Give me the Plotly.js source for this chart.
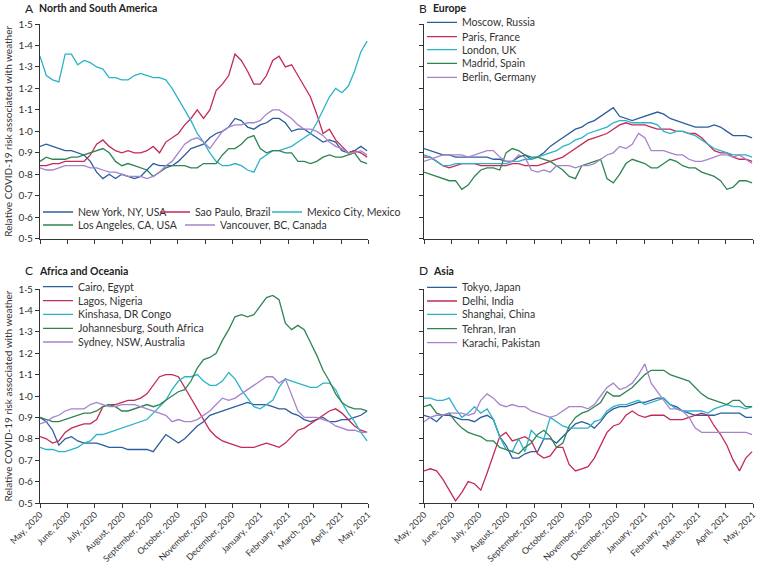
<!DOCTYPE html>
<html>
<head>
<meta charset="utf-8">
<script src="https://cdn.plot.ly/plotly-3.0.1.min.js"></script>
<style>
html,body{margin:0;padding:0;background:#fff;}
#chart{width:758px;height:567px;}
</style>
</head>
<body>
<div id="chart"></div>
<script>
// weekly sample dates (May 1, 2020 -> Apr 30, 2021)
var dates = ['2020-05-01','2020-05-08','2020-05-15','2020-05-22','2020-05-29','2020-06-05','2020-06-12','2020-06-19','2020-06-26','2020-07-03',
'2020-07-10','2020-07-17','2020-07-24','2020-07-31','2020-08-07','2020-08-14','2020-08-21','2020-08-28','2020-09-04','2020-09-11',
'2020-09-18','2020-09-25','2020-10-02','2020-10-09','2020-10-16','2020-10-23','2020-10-30','2020-11-06','2020-11-13','2020-11-20',
'2020-11-27','2020-12-04','2020-12-11','2020-12-18','2020-12-25','2021-01-01','2021-01-08','2021-01-15','2021-01-22','2021-01-29',
'2021-02-05','2021-02-12','2021-02-19','2021-02-26','2021-03-05','2021-03-12','2021-03-19','2021-03-26','2021-04-02','2021-04-09',
'2021-04-16','2021-04-23','2021-04-30'];

var monthTicks = ['2020-05-01','2020-06-01','2020-07-01','2020-08-01','2020-09-01','2020-10-01','2020-11-01','2020-12-01','2021-01-01','2021-02-01','2021-03-01','2021-04-01','2021-05-01'];
var monthLabels = ['May, 2020','June, 2020','July, 2020','August, 2020','September, 2020','October, 2020','November, 2020','December, 2020','January, 2021','February, 2021','March, 2021','April, 2021','May, 2021'];
var yTicks = [0.5,0.6,0.7,0.8,0.9,1.0,1.1,1.2,1.3,1.4,1.5];
var yLabels = ['0·5','0·6','0·7','0·8','0·9','1·0','1·1','1·2','1·3','1·4','1·5'];

// Panel A: North and South America
var newYork = [0.93,0.94,0.93,0.92,0.91,0.91,0.90,0.89,0.86,0.81, 0.78,0.80,0.78,0.80,0.79,0.78,0.79,0.82,0.85,0.84, 0.84,0.84,0.86,0.89,0.92,0.93,0.94,0.97,0.99,1.00, 1.02,1.06,1.05,1.02,1.01,1.03,1.04,1.06,1.06,1.04, 1.00,1.01,1.01,0.99,0.97,0.95,0.96,0.95,0.91,0.90, 0.91,0.93,0.91];
var saoPaulo = [0.84,0.84,0.85,0.85,0.86,0.86,0.86,0.86,0.89,0.94, 0.96,0.93,0.91,0.90,0.91,0.90,0.90,0.91,0.93,0.90, 0.95,0.97,0.99,1.03,1.06,1.10,1.06,1.10,1.19,1.22, 1.26,1.36,1.33,1.28,1.22,1.22,1.26,1.33,1.35,1.30, 1.31,1.26,1.21,1.16,1.08,0.99,1.01,0.96,0.93,0.90, 0.91,0.90,0.88];
var mexicoCity = [1.35,1.26,1.24,1.23,1.36,1.36,1.31,1.33,1.32,1.30, 1.29,1.25,1.25,1.24,1.24,1.26,1.27,1.26,1.25,1.25, 1.24,1.20,1.15,1.10,1.05,0.99,0.95,0.90,0.86,0.84, 0.84,0.85,0.84,0.82,0.81,0.87,0.89,0.91,0.91,0.92, 0.93,0.95,0.97,0.99,1.04,1.10,1.16,1.20,1.18,1.21, 1.28,1.37,1.42];
var losAngeles = [0.86,0.88,0.87,0.87,0.87,0.88,0.88,0.89,0.90,0.91, 0.92,0.90,0.86,0.84,0.85,0.84,0.83,0.82,0.79,0.81, 0.83,0.84,0.84,0.84,0.83,0.83,0.85,0.85,0.85,0.89, 0.92,0.92,0.94,0.97,0.98,0.92,0.90,0.91,0.91,0.90, 0.90,0.86,0.86,0.85,0.86,0.88,0.89,0.88,0.88,0.89, 0.90,0.86,0.85];
var vancouver = [0.83,0.82,0.82,0.83,0.84,0.84,0.84,0.84,0.83,0.83, 0.82,0.81,0.81,0.80,0.79,0.79,0.79,0.78,0.79,0.81, 0.84,0.86,0.90,0.94,0.96,0.97,0.95,0.92,0.96,1.00, 1.02,1.03,1.03,1.04,1.04,1.05,1.08,1.10,1.10,1.08, 1.06,1.03,1.01,1.01,1.00,0.98,0.95,0.93,0.92,0.90, 0.90,0.91,0.89];

// Panel B: Europe
var moscow = [0.92,0.91,0.90,0.89,0.89,0.88,0.88,0.88,0.88,0.88, 0.88,0.87,0.87,0.86,0.86,0.88,0.89,0.87,0.88,0.90, 0.93,0.95,0.97,0.99,1.01,1.02,1.04,1.05,1.07,1.09, 1.11,1.07,1.06,1.05,1.06,1.07,1.08,1.09,1.08,1.06, 1.05,1.04,1.03,1.02,1.02,1.02,1.03,1.02,1.00,0.98, 0.98,0.98,0.97];
var paris = [0.88,0.88,0.86,0.84,0.83,0.84,0.85,0.85,0.85,0.84, 0.84,0.84,0.84,0.84,0.85,0.85,0.84,0.84,0.84,0.85, 0.86,0.87,0.88,0.90,0.92,0.94,0.96,0.97,0.98,0.99, 1.01,1.03,1.04,1.03,1.03,1.03,1.02,1.01,1.01,1.01, 1.00,1.00,0.99,0.99,0.97,0.94,0.91,0.90,0.90,0.88, 0.87,0.87,0.86];
var london = [0.89,0.88,0.86,0.84,0.84,0.85,0.85,0.85,0.85,0.85, 0.85,0.85,0.85,0.85,0.86,0.86,0.87,0.87,0.88,0.89, 0.90,0.91,0.93,0.94,0.96,0.97,0.99,1.00,1.01,1.02, 1.04,1.05,1.05,1.04,1.04,1.04,1.04,1.03,1.00,0.99, 1.00,1.00,0.99,0.98,0.96,0.94,0.92,0.91,0.90,0.89, 0.89,0.89,0.88];
var madrid = [0.81,0.80,0.79,0.78,0.77,0.77,0.73,0.75,0.79,0.82, 0.83,0.83,0.82,0.90,0.92,0.91,0.89,0.88,0.88,0.87, 0.86,0.84,0.82,0.79,0.78,0.84,0.85,0.86,0.87,0.78, 0.76,0.80,0.85,0.87,0.86,0.85,0.83,0.83,0.85,0.87, 0.86,0.84,0.83,0.83,0.81,0.80,0.79,0.77,0.73,0.74, 0.77,0.77,0.76];
var berlin = [0.86,0.87,0.88,0.89,0.89,0.89,0.89,0.88,0.89,0.90, 0.91,0.91,0.88,0.86,0.86,0.89,0.88,0.82,0.81,0.82, 0.81,0.84,0.84,0.84,0.83,0.84,0.84,0.85,0.87,0.89, 0.90,0.93,0.92,0.94,0.99,0.97,0.91,0.91,0.91,0.90, 0.89,0.89,0.87,0.86,0.86,0.87,0.88,0.89,0.89,0.88, 0.89,0.87,0.85];

// Panel C: Africa and Oceania
var cairo = [0.90,0.88,0.84,0.77,0.80,0.81,0.79,0.78,0.78,0.78, 0.77,0.76,0.76,0.76,0.75,0.75,0.75,0.75,0.74,0.78, 0.82,0.80,0.78,0.80,0.83,0.86,0.88,0.91,0.92,0.93, 0.94,0.95,0.96,0.97,0.96,0.96,0.96,0.95,0.94,0.94, 0.92,0.91,0.89,0.88,0.89,0.90,0.88,0.88,0.89,0.89, 0.90,0.91,0.93];
var lagos = [0.81,0.80,0.78,0.79,0.83,0.85,0.86,0.87,0.87,0.89, 0.95,0.96,0.96,0.97,0.98,0.98,0.99,1.01,1.05,1.09, 1.10,1.10,1.09,1.04,0.99,0.94,0.89,0.84,0.81,0.79, 0.78,0.77,0.76,0.76,0.76,0.77,0.78,0.77,0.76,0.78, 0.81,0.84,0.85,0.87,0.89,0.91,0.93,0.94,0.92,0.89, 0.86,0.84,0.83];
var kinshasa = [0.76,0.75,0.75,0.74,0.74,0.75,0.76,0.78,0.79,0.82, 0.82,0.83,0.84,0.85,0.86,0.87,0.88,0.89,0.92,0.95, 0.98,1.03,1.07,1.09,1.09,1.10,1.07,1.05,1.05,1.07, 1.11,1.08,1.03,0.99,0.95,0.94,0.96,0.98,1.04,1.08, 1.07,1.06,1.05,1.04,1.04,1.06,1.06,1.03,0.97,0.92, 0.88,0.83,0.79];
var johannesburg = [0.90,0.89,0.88,0.88,0.89,0.90,0.91,0.92,0.92,0.93, 0.95,0.96,0.95,0.93,0.93,0.94,0.95,0.96,0.95,0.96, 0.98,1.00,1.02,1.03,1.07,1.13,1.17,1.18,1.20,1.26, 1.31,1.37,1.38,1.37,1.38,1.42,1.46,1.47,1.45,1.34, 1.31,1.33,1.31,1.25,1.19,1.12,1.07,1.01,0.97,0.95, 0.94,0.94,0.93];
var sydney = [0.87,0.88,0.90,0.91,0.93,0.94,0.94,0.94,0.96,0.97, 0.96,0.95,0.95,0.96,0.96,0.96,0.95,0.94,0.93,0.92, 0.91,0.88,0.89,0.88,0.88,0.89,0.91,0.93,0.96,0.99, 0.98,0.99,1.01,1.03,1.05,1.07,1.09,1.09,1.06,1.08, 1.00,0.93,0.90,0.90,0.90,0.89,0.88,0.86,0.85,0.84, 0.84,0.83,0.83];

// Panel D: Asia
var tokyo = [0.91,0.90,0.88,0.91,0.91,0.90,0.89,0.89,0.88,0.90, 0.91,0.89,0.81,0.77,0.71,0.71,0.73,0.74,0.74,0.80, 0.80,0.78,0.81,0.84,0.87,0.88,0.87,0.85,0.88,0.92, 0.94,0.95,0.95,0.96,0.97,0.97,0.98,0.99,0.99,0.96, 0.95,0.93,0.92,0.91,0.91,0.91,0.91,0.92,0.92,0.92, 0.92,0.90,0.90];
var delhi = [0.65,0.66,0.65,0.61,0.56,0.51,0.55,0.60,0.59,0.56, 0.64,0.73,0.81,0.83,0.79,0.80,0.81,0.79,0.73,0.71, 0.72,0.76,0.76,0.68,0.65,0.66,0.67,0.71,0.77,0.83, 0.86,0.87,0.91,0.93,0.91,0.90,0.91,0.91,0.91,0.89, 0.89,0.89,0.90,0.91,0.92,0.91,0.86,0.82,0.77,0.70, 0.65,0.71,0.74];
var shanghai = [0.99,0.99,0.98,0.98,0.99,0.94,0.90,0.92,0.95,0.92, 0.94,0.89,0.81,0.75,0.74,0.80,0.74,0.84,0.81,0.80, 0.90,0.88,0.86,0.85,0.85,0.85,0.85,0.88,0.89,0.93, 0.95,0.96,0.96,0.97,0.98,0.96,0.97,0.98,0.99,0.96, 0.94,0.93,0.93,0.93,0.93,0.92,0.94,0.95,0.96,0.95, 0.95,0.94,0.95];
var tehran = [0.95,0.96,0.92,0.91,0.92,0.88,0.85,0.83,0.82,0.81, 0.79,0.79,0.76,0.75,0.74,0.73,0.76,0.78,0.82,0.84, 0.81,0.76,0.78,0.86,0.90,0.92,0.93,0.95,0.97,1.02, 1.00,1.00,1.02,1.04,1.07,1.10,1.12,1.12,1.12,1.10, 1.09,1.08,1.07,1.04,1.01,0.99,0.98,0.97,0.96,0.98, 0.98,0.95,0.95];
var karachi = [0.88,0.90,0.91,0.91,0.92,0.92,0.92,0.91,0.92,0.98, 1.01,0.99,0.96,0.95,0.96,0.95,0.95,0.93,0.92,0.91, 0.90,0.91,0.93,0.95,0.95,0.95,0.94,0.96,1.00,1.04, 1.06,1.03,1.04,1.06,1.10,1.15,1.06,1.02,0.98,0.94, 0.94,0.93,0.90,0.85,0.83,0.83,0.83,0.83,0.83,0.83, 0.83,0.83,0.82];

var BLUE = '#2c5d9c', RED = '#c42a55', CYAN = '#2bb3c9', GREEN = '#2e8552', PURPLE = '#a683cc';

// series: [name, values, colour, axes suffix, legend pixel position (line start x, centre y)]
var series = [
  ['New York, NY, USA', newYork, BLUE, '', [43, 212]],
  ['Sao Paulo, Brazil', saoPaulo, RED, '', [160, 212]],
  ['Mexico City, Mexico', mexicoCity, CYAN, '', [272, 212]],
  ['Los Angeles, CA, USA', losAngeles, GREEN, '', [43, 225]],
  ['Vancouver, BC, Canada', vancouver, PURPLE, '', [185, 225]],
  ['Moscow, Russia', moscow, BLUE, '2', [427, 22.3]],
  ['Paris, France', paris, RED, '2', [427, 36.7]],
  ['London, UK', london, CYAN, '2', [427, 49.7]],
  ['Madrid, Spain', madrid, GREEN, '2', [427, 63.3]],
  ['Berlin, Germany', berlin, PURPLE, '2', [427, 77.3]],
  ['Cairo, Egypt', cairo, BLUE, '3', [43, 286.7]],
  ['Lagos, Nigeria', lagos, RED, '3', [43, 300.7]],
  ['Kinshasa, DR Congo', kinshasa, CYAN, '3', [43, 314.3]],
  ['Johannesburg, South Africa', johannesburg, GREEN, '3', [43, 328.3]],
  ['Sydney, NSW, Australia', sydney, PURPLE, '3', [43, 342]],
  ['Tokyo, Japan', tokyo, BLUE, '4', [427, 287.3]],
  ['Delhi, India', delhi, RED, '4', [427, 301]],
  ['Shanghai, China', shanghai, CYAN, '4', [427, 314.3]],
  ['Tehran, Iran', tehran, GREEN, '4', [427, 328.7]],
  ['Karachi, Pakistan', karachi, PURPLE, '4', [427, 342.7]]
];

var W = 758, H = 567;
var M = {l: 40, r: 5, t: 24, b: 64};
var PW = W - M.l - M.r, PH = H - M.t - M.b;
function px2x(px) { return (px - M.l) / PW; }
function px2y(py) { return (H - M.b - py) / PH; }

var FONT = 'Lato, "Open Sans", sans-serif';
var TXT = '#333333';

var traces = [];
var layout = {
  width: W, height: H,
  margin: M,
  paper_bgcolor: '#ffffff',
  plot_bgcolor: '#ffffff',
  font: {family: FONT, size: 10, color: TXT},
  showlegend: true,
  annotations: [],
  hovermode: false
};

series.forEach(function (s, i) {
  var legendId = i === 0 ? 'legend' : 'legend' + (i + 1);
  traces.push({
    type: 'scatter', mode: 'lines',
    x: dates, y: s[1], name: s[0],
    xaxis: 'x' + s[3], yaxis: 'y' + s[3],
    line: {color: s[2], width: 1.3},
    legend: legendId
  });
  layout[legendId] = {
    x: px2x(s[4][0] - 5), y: px2y(s[4][1]),
    xanchor: 'left', yanchor: 'middle',
    bgcolor: 'rgba(0,0,0,0)', borderwidth: 0,
    font: {family: FONT, size: 10.5, color: TXT}
  };
});

var xDomL = [0, px2x(368)], xDomR = [px2x(424), 1];
var yDomT = [px2y(238.7), 1], yDomB = [0, px2y(289)];

function xAxis(domain, anchor, labels) {
  return {
    domain: domain, anchor: anchor, type: 'date',
    range: ['2020-05-01', '2021-05-01'],
    tickmode: 'array', tickvals: monthTicks, ticktext: monthLabels,
    showticklabels: labels, tickangle: -45,
    ticklabeloverflow: 'allow',
    ticklabelstandoff: -2,
    ticks: 'outside', ticklen: 4, tickwidth: 1, tickcolor: '#333',
    showline: true, linecolor: '#333', linewidth: 1.2,
    showgrid: false, zeroline: false,
    tickfont: {family: FONT, size: 8.8, color: TXT}
  };
}
function yAxis(domain, anchor, labels, title) {
  var a = {
    domain: domain, anchor: anchor,
    range: [0.5, 1.5],
    tickmode: 'array', tickvals: yTicks, ticktext: yLabels,
    showticklabels: labels,
    ticks: 'outside', ticklen: 4, tickwidth: 1, tickcolor: '#333',
    showline: true, linecolor: '#333', linewidth: 1.2,
    showgrid: false, zeroline: false,
    tickfont: {family: FONT, size: 10, color: TXT}
  };
  if (title) a.title = {text: 'Relative COVID-19 risk associated with weather', font: {family: FONT, size: 10, color: TXT}, standoff: 4};
  return a;
}

layout.xaxis = xAxis(xDomL, 'y', false);
layout.yaxis = yAxis(yDomT, 'x', true, true);
layout.xaxis2 = xAxis(xDomR, 'y2', false);
layout.yaxis2 = yAxis(yDomT, 'x2', false, false);
layout.xaxis3 = xAxis(xDomL, 'y3', true);
layout.yaxis3 = yAxis(yDomB, 'x3', true, true);
layout.xaxis4 = xAxis(xDomR, 'y4', true);
layout.yaxis4 = yAxis(yDomB, 'x4', false, false);

// panel titles: [letter, title, letter x px, title x px, top y px]
var panelTitles = [
  ['A', 'North and South America', 24, 38, 0],
  ['B', 'Europe', 418, 432, 0],
  ['C', 'Africa and Oceania', 24, 38, 262],
  ['D', 'Asia', 418, 432, 262]
];
panelTitles.forEach(function (p) {
  layout.annotations.push({
    xref: 'paper', yref: 'paper', x: px2x(p[2]), y: px2y(p[4]),
    xanchor: 'left', yanchor: 'top', showarrow: false, borderpad: 0,
    text: p[0], font: {family: FONT, size: 12, color: '#222'}
  });
  layout.annotations.push({
    xref: 'paper', yref: 'paper', x: px2x(p[3]), y: px2y(p[4] + 1.5),
    xanchor: 'left', yanchor: 'top', showarrow: false, borderpad: 0,
    text: '<b>' + p[1] + '</b>', font: {family: FONT, size: 10.5, color: '#222'}
  });
});

Plotly.newPlot('chart', traces, layout, {staticPlot: true, displayModeBar: false});
</script>
</body>
</html>
